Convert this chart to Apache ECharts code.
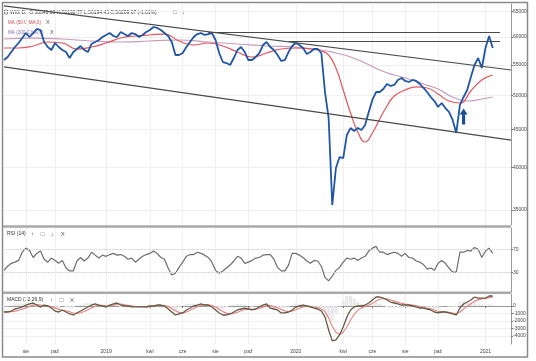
<!DOCTYPE html>
<html><head><meta charset="utf-8">
<script src="https://cdn.jsdelivr.net/npm/echarts@6/dist/echarts.min.js"></script>
<style>html,body{margin:0;padding:0;background:#fff}#c{width:536px;height:361px}</style>
</head><body><div id="c"></div>
<script>
// ---- data (weekly samples) ----
const startDate = [2018, 5, 25];          // Monday of the first weekly sample
const weekCount = 140;                     // weeks on the time axis
const monthNames = ['sty','lut','mar','kwi','maj','cze','lip','sie','wrz','paź','lis','gru'];
const labeledMonths = [0, 3, 5, 7, 9];

const close = [55850,56380,57260,58160,58890,59810,60750,60000,60750,61520,
61320,59070,58160,57620,58890,58160,57620,57260,56200,57260,
57800,58340,57620,57260,58710,59070,59440,60000,60380,60750,
60190,60000,60940,60560,60190,60750,60560,60000,60380,60940,
61320,61900,61710,61320,60750,60190,59070,56730,56730,57080,
58160,59070,60000,60560,60750,60380,60560,60750,59440,57080,
55500,55330,54990,56200,57620,58160,57260,55850,55850,56380,
57080,58520,59070,58160,57620,56730,55680,55850,57260,58340,
58890,58520,57980,56910,57260,57800,57800,57080,50550,46620,
35540,39890,41280,41150,44210,45180,44760,45180,44900,45610,
47500,49310,50550,50550,51030,51830,51510,51670,52480,52810,
52320,52150,52480,52320,51830,51190,50550,49770,49150,48240,
48850,48090,47500,46330,44490,48550,49770,50870,52970,54990,
56200,54480,57980,60190,57980];

const ma50 = [[0,57980],[4,57980],[8,58340],[12,59070],[16,58890],[20,57800],[24,58160],[28,58890],[32,59810],[36,60190],[40,60380],[44,60560],[48,59260],[52,58520],[56,58890],[60,58340],[64,57260],[68,56380],[72,57080],[76,57800],[80,57980],[84,57800],[87,57440],[89,56730],[91,54480],[93,50870],[95,47350],[97,44620],[99,43260],[101,44490],[103,46470],[105,48390],[107,49930],[110,50870],[113,51350],[116,51190],[119,50240],[122,49150],[125,48850],[128,50710],[131,52480],[134,53300]];

const ma200 = [[0,59630],[8,59810],[16,59630],[24,59260],[32,59070],[40,59260],[48,59440],[56,59070],[64,58710],[72,58340],[80,58160],[87,57620],[91,57080],[95,56380],[99,55330],[103,54140],[107,53300],[111,52640],[115,51830],[119,51030],[123,49770],[127,49150],[131,49460],[134,49770]];

const rsi = [34,41,46,48,51,65,72,68,56,63,
67,53,48,55,51,46,51,38,33,33,
50,56,50,55,65,60,55,60,58,61,
63,60,61,58,53,55,48,53,58,61,
63,67,63,56,53,38,26,29,39,48,
58,61,61,65,63,60,56,48,34,29,
33,38,43,50,58,55,46,48,51,55,
56,60,61,61,53,39,33,33,43,63,
63,60,56,50,46,51,50,41,22,16,
24,34,39,48,55,53,55,51,55,58,
67,72,75,65,65,61,63,65,63,58,
63,56,55,50,48,44,36,38,34,46,
51,46,38,31,31,65,65,68,67,73,
70,56,67,72,63];

const macd = [-800,-800,-670,-400,-270,-130,130,270,400,130,
-130,130,0,-270,-670,-800,-530,-800,-1060,-1200,
-930,-670,-400,-130,130,270,130,0,-130,130,
270,400,130,0,0,-130,-130,-130,-130,-130,
0,0,130,130,0,-400,-800,-1200,-1060,-930,
-530,-270,0,130,270,130,130,-130,-530,-930,
-1200,-1200,-1060,-800,-530,-400,-270,-400,-530,-400,
-130,130,270,-270,-400,-530,-930,-930,-800,-530,
-130,0,130,0,-130,-270,-400,-670,-1460,-3190,
-4650,-4520,-3860,-2790,-1460,-530,-130,0,0,130,
400,800,1200,1200,1060,800,530,400,270,130,
130,130,0,-130,-270,-270,-400,-530,-800,-930,
-800,-800,-930,-1060,-1200,-270,270,530,800,1200,
1060,1060,1060,1330,1330];

const signal = [-700,-760,-760,-680,-560,-420,-250,-80,120,180,
120,60,20,-60,-250,-450,-560,-640,-780,-930,
-980,-900,-720,-500,-250,-30,100,100,40,30,
120,230,250,170,90,20,-40,-90,-110,-120,
-90,-50,0,60,60,-80,-330,-640,-850,-920,
-800,-580,-330,-100,80,150,150,60,-140,-440,
-750,-950,-1050,-980,-820,-640,-480,-420,-440,-430,
-330,-150,50,50,-80,-250,-480,-650,-740,-680,
-500,-300,-120,-30,-50,-130,-240,-400,-750,-1600,
-2700,-3500,-3800,-3500,-2800,-1900,-1100,-550,-250,-80,
100,350,650,900,1000,950,800,650,500,350,
250,200,130,40,-80,-170,-260,-380,-540,-710,
-780,-790,-840,-930,-1040,-800,-400,-50,300,650,
850,950,1000,1120,1200];

const priceTicks = [35000,40000,45000,50000,55000,60000,65000];
const rsiTicks = [30,70];
const rsiLevels = [30,70];
const macdTicks = [0,-1000,-2000,-3000,-4000];
const priceRange = [33400, 66500];
const rsiRange = [-3, 106.4];
const macdRange = [-5067, 1600];

// trend lines (week index, index value)
const trendTop = [[0,66100],[139,54140]];
const trendBottom = [[0,54660],[139,43500]];
const resistanceHigh = [[56,60940],[136,60940]];
const resistanceLow = [[78,59260],[136,59260]];
const arrowAt = [126, 46840];

const headerText = 'WIG D1 O:56045.60 H:56192.77 L:56194.45 C:56209.67 (-1.61%)';

// ---- build ----
const categories = [];
for (let i = 0; i < weekCount; i++) {
  const d = new Date(Date.UTC(startDate[0], startDate[1], startDate[2] + 7 * i));
  categories.push(d.toISOString().slice(0, 10));
}
const monthOf = s => +s.slice(5, 7) - 1;
const isTick = i => i > 0 && monthOf(categories[i]) !== monthOf(categories[i - 1]) && labeledMonths.includes(monthOf(categories[i]));
const tickText = s => monthOf(s) === 0 ? s.slice(0, 4) : monthNames[monthOf(s)];
const L = Math.log;
const FONT = 'Liberation Sans, Arial, sans-serif';

function seg(p, color) {
  return [{coord: [categories[p[0][0]], L(p[0][1])], lineStyle: {color: color, width: 1.2, type: 'solid'}},
          {coord: [categories[p[1][0]], L(p[1][1])]}];
}
function box(yv, text, bg) {
  return {yAxis: yv, lineStyle: {opacity: 0},
    label: {show: true, position: 'end', formatter: text, backgroundColor: bg, color: '#fff',
            fontSize: 5, fontFamily: FONT, padding: [2, 1, 1, 1], distance: 1}};
}

const grids = [
  {left: 4, right: 25, top: 4, height: 221},
  {left: 4, right: 25, top: 228, height: 64},
  {left: 4, right: 25, top: 294, height: 50}
];
function xAxis(gi, show) {
  return {gridIndex: gi, type: 'category', data: categories, boundaryGap: false,
    axisLine: {show: show, lineStyle: {color: '#999'}},
    axisTick: {show: show, interval: (i) => isTick(i), length: 2, lineStyle: {color: '#777'}},
    axisLabel: {show: show, interval: (i) => isTick(i), formatter: (v) => tickText(v), fontSize: 5, color: '#444', margin: 5, fontFamily: FONT},
    splitLine: {show: true, interval: (i) => isTick(i), lineStyle: {color: '#efefef'}}};
}
function yAxis(gi, min, max, ticks, fmt) {
  return {gridIndex: gi, type: 'value', position: 'right', min: min, max: max, scale: true,
    axisLine: {show: true, lineStyle: {color: '#999'}},
    axisTick: {show: true, length: 2, customValues: ticks, lineStyle: {color: '#777'}},
    axisLabel: {customValues: ticks, formatter: fmt, fontSize: 5, color: '#444', margin: 2, fontFamily: FONT},
    splitLine: {show: true, lineStyle: {color: '#efefef'}}};
}

const last = close.length - 1;
const hist = macd.map((v, i) => v - signal[i]);

const option = {
  animation: false,
  grid: grids,
  xAxis: [xAxis(0, false), xAxis(1, false), xAxis(2, true)],
  yAxis: [
    yAxis(0, L(priceRange[0]), L(priceRange[1]), priceTicks.map(L), v => String(Math.round(Math.exp(v)))),
    yAxis(1, rsiRange[0], rsiRange[1], rsiTicks, v => String(Math.round(v))),
    yAxis(2, macdRange[0], macdRange[1], macdTicks, v => String(Math.round(v)))
  ],
  series: [
    {type: 'line', name: 'MA200', xAxisIndex: 0, yAxisIndex: 0, smooth: true, symbol: 'none',
     data: ma200.map(p => [categories[p[0]], L(p[1])]), lineStyle: {color: '#c99bbb', width: 1.2},
     markLine: {silent: true, symbol: ['none', 'none'], data: [box(L(ma200[ma200.length - 1][1]), String(ma200[ma200.length - 1][1]), '#5b46a8')]}},
    {type: 'line', name: 'MA50', xAxisIndex: 0, yAxisIndex: 0, smooth: true, symbol: 'none',
     data: ma50.map(p => [categories[p[0]], L(p[1])]), lineStyle: {color: '#e0565c', width: 1.2},
     markLine: {silent: true, symbol: ['none', 'none'], data: [box(L(ma50[ma50.length - 1][1]), String(ma50[ma50.length - 1][1]), '#e3151d')]}},
    {type: 'line', name: 'WIG', xAxisIndex: 0, yAxisIndex: 0, symbol: 'none', z: 4,
     data: close.map(L), lineStyle: {color: '#1f56a6', width: 1.8},
     markLine: {silent: true, symbol: ['none', 'none'], label: {show: false},
       data: [seg(trendTop, '#4a4a4a'), seg(trendBottom, '#4a4a4a'), seg(resistanceHigh, '#4a4a4a'), seg(resistanceLow, '#4a4a4a'),
              box(L(close[last]), String(close[last]), '#111')]},
     markPoint: {silent: true, data: [{coord: [categories[arrowAt[0]], L(arrowAt[1])],
       symbol: 'path://M5,0 L10,6 L7,6 L7,16 L3,16 L3,6 L0,6 Z', symbolSize: [8, 16],
       itemStyle: {color: '#1d4f91'}, label: {show: false}}]}},
    {type: 'line', name: 'RSI', xAxisIndex: 1, yAxisIndex: 1, symbol: 'none',
     data: rsi, lineStyle: {color: '#6e6e6e', width: 1.2},
     markLine: {silent: true, symbol: ['none', 'none'], label: {show: false},
       data: rsiLevels.map(v => ({yAxis: v, lineStyle: {color: '#d5d5d5', type: 'dotted', width: 1}}))
             .concat([box(rsi[last], String(rsi[last]), '#111')])}},
    {type: 'bar', name: 'Hist', xAxisIndex: 2, yAxisIndex: 2, data: hist, barWidth: 3,
     itemStyle: {color: '#e8e8e8'}},
    {type: 'line', name: 'Signal', xAxisIndex: 2, yAxisIndex: 2, symbol: 'none',
     data: signal, lineStyle: {color: '#e98080', width: 1.1}},
    {type: 'line', name: 'MACD', xAxisIndex: 2, yAxisIndex: 2, symbol: 'none',
     data: macd, lineStyle: {color: '#635a44', width: 1.3},
     markLine: {silent: true, symbol: ['none', 'none'], data: [box(macd[last], String(macd[last]), '#1e9b3c')]}}
  ],
  graphic: [
    {type: 'rect', shape: {x: 2.5, y: 2.5, width: 525, height: 354.5}, style: {fill: 'none', stroke: '#8a8a8a', lineWidth: 1.5}, silent: true},
    {type: 'line', shape: {x1: 3, y1: 226.5, x2: 511, y2: 226.5}, style: {stroke: '#a9a9a9', lineWidth: 2.5}, silent: true},
    {type: 'line', shape: {x1: 3, y1: 292.8, x2: 511, y2: 292.8}, style: {stroke: '#a9a9a9', lineWidth: 2.5}, silent: true},
    {type: 'rect', shape: {x: 4.5, y: 10, width: 3, height: 4}, style: {fill: 'none', stroke: '#777', lineWidth: 0.8}, silent: true},
    {type: 'text', x: 10, y: 12.5, style: {text: headerText, font: '5px ' + FONT, fill: '#333', textVerticalAlign: 'middle'}, silent: true},
    {type: 'text', x: 173, y: 12.5, style: {text: '□   ↓', font: '6px ' + FONT, fill: '#555', textVerticalAlign: 'middle'}, silent: true},
    {type: 'text', x: 8, y: 22.5, style: {text: 'MA (50 C,MA,0)', font: '4.6px ' + FONT, fill: '#d94848', textVerticalAlign: 'middle'}, silent: true},
    {type: 'text', x: 46, y: 22.5, style: {text: 'X', font: '5.5px ' + FONT, fill: '#555', textVerticalAlign: 'middle'}, silent: true},
    {type: 'text', x: 8, y: 32.5, style: {text: 'MA (200 C,MA,0)', font: '4.6px ' + FONT, fill: '#8a64b0', textVerticalAlign: 'middle'}, silent: true},
    {type: 'text', x: 50, y: 32.5, style: {text: 'X', font: '5.5px ' + FONT, fill: '#555', textVerticalAlign: 'middle'}, silent: true},
    {type: 'text', x: 7, y: 234, style: {text: 'RSI (14)', font: '5px ' + FONT, fill: '#333', textVerticalAlign: 'middle'}, silent: true},
    {type: 'text', x: 31, y: 234, style: {text: '↑    □    ↓    X', font: '6px ' + FONT, fill: '#555', textVerticalAlign: 'middle'}, silent: true},
    {type: 'text', x: 7, y: 300, style: {text: 'MACD (12,26,9)', font: '5px ' + FONT, fill: '#333', textVerticalAlign: 'middle'}, silent: true},
    {type: 'text', x: 50, y: 300, style: {text: '↑    □    X', font: '6px ' + FONT, fill: '#555', textVerticalAlign: 'middle'}, silent: true}
  ]
};
const chart = echarts.init(document.getElementById('c'));
chart.setOption(option);
</script>
</body></html>
